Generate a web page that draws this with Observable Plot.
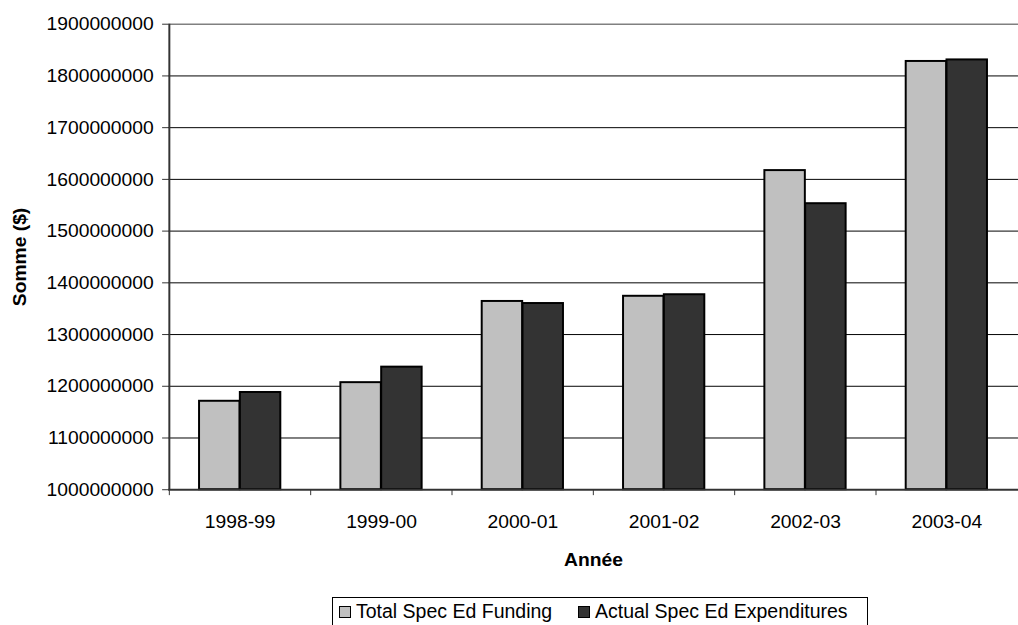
<!DOCTYPE html>
<html>
<head>
<meta charset="utf-8">
<script src="https://cdn.jsdelivr.net/npm/d3@7"></script>
<script src="https://cdn.jsdelivr.net/npm/@observablehq/plot@0.6"></script>
<style>
  html, body { margin: 0; padding: 0; background: #fff; overflow: hidden; }
  #wrap { width: 1018px; height: 625px; overflow: hidden; position: relative; font-family: Arial, "Liberation Sans", sans-serif; }
  #chart svg { display: block; }
  #legend { position: absolute; left: 332px; top: 597px; width: 536px; height: 34px; border: 1px solid #000; box-sizing: border-box; background: #fff; }
  .item { position: absolute; top: 0; display: flex; align-items: center; font-size: 19.5px; color: #000; line-height: 1; white-space: nowrap; }
  .sw { width: 10px; height: 10px; border: 1.5px solid #000; margin-right: 5px; }
</style>
</head>
<body>
<div id="wrap">
  <div id="chart"></div>
  <div id="legend"></div>
</div>
<script>
const years = ["1998-99", "1999-00", "2000-01", "2001-02", "2002-03", "2003-04"];
const totalFunding = [1171000000, 1207000000, 1364000000, 1374000000, 1617000000, 1828000000];
const actualExpenditures = [1188000000, 1237000000, 1360000000, 1377000000, 1553000000, 1831000000];
const yTicks = [1000000000, 1100000000, 1200000000, 1300000000, 1400000000, 1500000000, 1600000000, 1700000000, 1800000000, 1900000000];
const seriesNames = ["Total Spec Ed Funding", "Actual Spec Ed Expenditures"];
const seriesColors = ["#c0c0c0", "#333333"];

const baseline = yTicks[0];
const rows = years.map((y, i) => ({year: y, total: totalFunding[i], actual: actualExpenditures[i]}));

const width = 1030, marginLeft = 170, marginRight = 0;
const step = (width - marginLeft - marginRight) / years.length;

const chart = Plot.plot({
  width,
  height: 580,
  marginTop: 24,
  marginBottom: 85,
  marginLeft,
  marginRight,
  style: {fontFamily: "Arial, 'Liberation Sans', sans-serif", fontSize: "19.5px", color: "#000", background: "#fff", overflow: "visible"},
  x: {domain: years, padding: 0, axis: null},
  y: {domain: [yTicks[0], yTicks[yTicks.length - 1]], axis: null},
  marks: [
    Plot.ruleY(yTicks.slice(1, -1), {stroke: "#000", strokeWidth: 1}),
    Plot.ruleY([yTicks[yTicks.length - 1]], {stroke: "#808080", strokeWidth: 1.5}),
    Plot.barY(rows, {x: "year", y1: baseline, y2: "total", fill: seriesColors[0], stroke: "#000", strokeWidth: 2, insetLeft: step * 0.212, insetRight: step * 0.5}),
    Plot.barY(rows, {x: "year", y1: baseline, y2: "actual", fill: seriesColors[1], stroke: "#000", strokeWidth: 2, insetLeft: step * 0.5, insetRight: step * 0.212}),
    Plot.axisY({ticks: yTicks, tickSize: 6, tickPadding: 9, tickFormat: d3.format("d"), label: null, stroke: "#333"}),
    Plot.axisX({tickSize: 0, tickPadding: 25, label: null}),
    Plot.axisX({tickSize: 6, tickFormat: () => "", label: null, dx: -step / 2, stroke: "#333"}),
    Plot.ruleY([baseline], {stroke: "#333", strokeWidth: 2}),
    Plot.ruleX([years[0]], {y1: yTicks[0], y2: yTicks[yTicks.length - 1], dx: -step / 2, stroke: "#333", strokeWidth: 2}),
    Plot.text(["Somme ($)"], {frameAnchor: "left", dx: -150, rotate: -90, textAnchor: "middle", lineAnchor: "middle", fontWeight: "bold", fontSize: 19.5}),
    Plot.text(["Année"], {frameAnchor: "bottom", dy: 71, textAnchor: "middle", lineAnchor: "middle", fontWeight: "bold", fontSize: 19.5})
  ]
});
document.getElementById("chart").appendChild(chart);

const legend = document.getElementById("legend");
const lefts = [6, 245];
seriesNames.forEach((name, i) => {
  const item = document.createElement("div");
  item.className = "item";
  item.style.left = lefts[i] + "px";
  item.style.top = "4px";
  const sw = document.createElement("div");
  sw.className = "sw";
  sw.style.background = seriesColors[i];
  const label = document.createElement("span");
  label.textContent = name;
  item.appendChild(sw);
  item.appendChild(label);
  legend.appendChild(item);
});
</script>
</body>
</html>
